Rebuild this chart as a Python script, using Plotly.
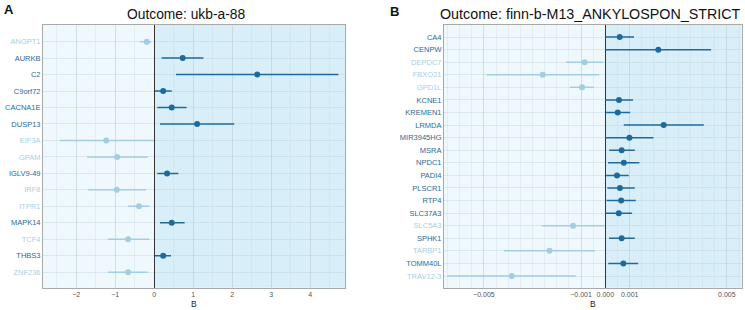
import plotly.graph_objects as go

# ---------------- Data ----------------
genes_a = ["ANGPT1", "AURKB", "C2", "C9orf72", "CACNA1E", "DUSP13", "EIF3A", "GPAM",
           "IGLV9-49", "IRF8", "ITPR1", "MAPK14", "TCF4", "THBS3", "ZNF236"]
b_a    = [-0.19, 0.73, 2.64, 0.23, 0.45, 1.10, -1.23, -0.95, 0.33, -0.96, -0.39, 0.45, -0.67, 0.23, -0.67]
lo_a   = [-0.37, 0.19, 0.56, 0.02, 0.08, 0.15, -2.42, -1.72, 0.08, -1.69, -0.67, 0.15, -1.19, 0.02, -1.18]
hi_a   = [-0.07, 1.26, 4.72, 0.45, 0.83, 2.05, -0.01, -0.17, 0.62, -0.21, -0.12, 0.78, -0.13, 0.43, -0.17]

genes_b = ["CA4", "CENPW", "DEPDC7", "FBXO21", "GPD1L", "KCNE1", "KREMEN1", "LRMDA", "MIR3945HG",
           "MSRA", "NPDC1", "PADI4", "PLSCR1", "RTP4", "SLC37A3", "SLC5A3", "SPHK1", "TARBP1",
           "TOMM40L", "TRAV12-3"]
b_b  = [0.00059, 0.00218, -0.00085, -0.00258, -0.00096, 0.00056, 0.00051, 0.00240, 0.00099,
        0.00067, 0.00076, 0.00048, 0.00060, 0.00065, 0.00055, -0.00133, 0.00067, -0.00230,
        0.00074, -0.00385]
lo_b = [0.00000, 0.00000, -0.00162, -0.00488, -0.00145, 0.00000, 0.00003, 0.00076, 0.00000,
        0.00016, 0.00011, 0.00003, 0.00008, 0.00005, 0.00000, -0.00262, 0.00015, -0.00417,
        0.00012, -0.00650]
hi_b = [0.00118, 0.00435, -0.00008, -0.00025, -0.00048, 0.00114, 0.00102, 0.00405, 0.00198,
        0.00121, 0.00140, 0.00096, 0.00121, 0.00125, 0.00110, -0.00003, 0.00121, -0.00042,
        0.00135, -0.00122]

titles = ["Outcome: ukb-a-88", "Outcome: finn-b-M13_ANKYLOSPON_STRICT"]
panel_letters = ["A", "B"]
x_title = "B"

# ---------------- Style ----------------
DARK = "#1f6a9c"
LIGHT = "#a3cde2"
DARK_LBL = "#2a6a98"
LIGHT_LBL = "#a8cfe2"
BG_NEG = "#eff8fd"
BG_POS = "#d8eff9"
FONT = "Liberation Sans, Arial, sans-serif"
W, H = 745, 310

fig = go.Figure()

panels = [
    dict(genes=genes_a, b=b_a, lo=lo_a, hi=hi_a, xa="x", ya="y",
         dom=[43/W, 345/W], xr=[-2.85, 4.89], minor=0.5,
         tickvals=[-2, -1, 0, 1, 2, 3, 4],
         ticktext=["\u22122", "\u22121", "0", "1", "2", "3", "4"], pad=(1.01, 0.94),
         title_x=186/W, title_size=13.8),
    dict(genes=genes_b, b=b_b, lo=lo_b, hi=hi_b, xa="x2", ya="y2",
         dom=[444/W, 741.7/W], xr=[-0.00664, 0.00561], minor=0.0005,
         tickvals=[-0.005, -0.001, 0.0, 0.001, 0.005],
         ticktext=["\u22120.005", "\u22120.001", "0.000", "0.001", "0.005"], pad=(0.96, 0.93),
         title_x=590/W, title_size=14.3),
]

ydom = [1 - 287.7/H, 1 - 25/H]

for i, p in enumerate(panels):
    n = len(p["genes"])
    idx = list(range(n))
    for sign in (1, -1):
        sel = [k for k in idx if (p["b"][k] > 0) == (sign > 0)]
        col = DARK if sign > 0 else LIGHT
        fig.add_trace(go.Scatter(
            x=[p["b"][k] for k in sel], y=sel, mode="markers",
            marker=dict(color=col, size=6),
            error_x=dict(type="data", symmetric=False,
                         array=[p["hi"][k] - p["b"][k] for k in sel],
                         arrayminus=[p["b"][k] - p["lo"][k] for k in sel],
                         color=col, thickness=1.5, width=0),
            xaxis=p["xa"], yaxis=p["ya"], showlegend=False, hoverinfo="skip"))
    ticktext = [f"<span style='color:{DARK_LBL if p['b'][k] > 0 else LIGHT_LBL}'>{g}</span>"
                for k, g in enumerate(p["genes"])]
    suffix = "" if i == 0 else "2"
    xr = p["xr"]
    fig.add_shape(type="rect", xref=p["xa"], yref=f"{p['ya']} domain", x0=xr[0], x1=0, y0=0, y1=1,
                  fillcolor=BG_NEG, line_width=0, layer="below")
    fig.add_shape(type="rect", xref=p["xa"], yref=f"{p['ya']} domain", x0=0, x1=xr[1], y0=0, y1=1,
                  fillcolor=BG_POS, line_width=0, layer="below")
    fig.update_layout(**{
        f"xaxis{suffix}": dict(domain=p["dom"], range=xr, anchor=p["ya"], automargin=False,
                               tickvals=p["tickvals"], ticktext=p["ticktext"],
                               tickfont=dict(size=7, color="#555555", family=FONT),
                               showgrid=True, gridcolor="rgba(190,205,215,0.5)", gridwidth=1,
                               minor=dict(dtick=p["minor"], tick0=0, showgrid=True,
                                          gridcolor="rgba(200,212,222,0.3)", gridwidth=0.6),
                               zeroline=True, zerolinecolor="#333333", zerolinewidth=1,
                               showline=True, mirror=True, linecolor="#a9a9a9", linewidth=1,
                               ticks="", ticklen=0),
        f"yaxis{suffix}": dict(domain=ydom, anchor=p["xa"], automargin=False,
                               range=[n - 1 + p["pad"][1], -p["pad"][0]],
                               tickvals=idx, ticktext=ticktext,
                               tickfont=dict(size=7.5, family=FONT),
                               showgrid=True, gridcolor="rgba(190,205,215,0.4)", gridwidth=1,
                               zeroline=False, showline=True, mirror=True,
                               linecolor="#a9a9a9", linewidth=1, ticks="", ticklen=2),
    })
    cx = (p["dom"][0] + p["dom"][1]) / 2
    fig.add_annotation(text=titles[i], x=p["title_x"], y=1 - 14/H, xref="paper", yref="paper",
                       showarrow=False, font=dict(size=p["title_size"], color="#111111", family=FONT),
                       xanchor="center", yanchor="middle")
    fig.add_annotation(text=x_title, x=cx, y=1 - 304/H, xref="paper", yref="paper",
                       showarrow=False, font=dict(size=8.5, color="#222222", family=FONT),
                       xanchor="center", yanchor="middle")

fig.add_annotation(text=f"<b>{panel_letters[0]}</b>", x=2/W, y=1 - 10/H, xref="paper", yref="paper",
                   showarrow=False, font=dict(size=13, color="#111111", family=FONT),
                   xanchor="left", yanchor="middle")
fig.add_annotation(text=f"<b>{panel_letters[1]}</b>", x=388/W, y=1 - 11/H, xref="paper", yref="paper",
                   showarrow=False, font=dict(size=13, color="#111111", family=FONT),
                   xanchor="left", yanchor="middle")

fig.update_layout(width=W, height=H, margin=dict(l=0, r=0, t=0, b=0, autoexpand=False),
                  paper_bgcolor="white", plot_bgcolor="white",
                  font=dict(family=FONT))

fig.write_html("out.html", config={"displayModeBar": False},
               post_script="document.body.style.margin='0px';document.body.style.overflow='hidden';")
